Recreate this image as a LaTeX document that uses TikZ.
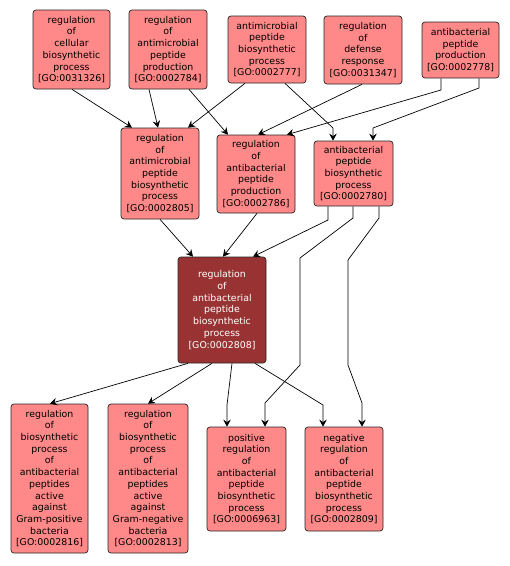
\documentclass[tikz,border=0pt]{standalone}
\usepackage{fontspec}
\setmainfont{DejaVu Sans}
\usetikzlibrary{arrows.meta}
\definecolor{gofill}{RGB}{255,136,136}
\definecolor{gofocus}{RGB}{153,51,51}
\begin{document}
\begin{tikzpicture}[x=1pt,y=-1pt,
  term/.style={draw=black!85, line width=0.7pt, fill=gofill, rounded corners=3pt, align=center, inner sep=0pt,
    font=\fontsize{9.4}{11.7}\selectfont, text=black},
  focus/.style={term, fill=gofocus, text=white},
  arr/.style={draw=black, line width=0.7pt, -{Stealth[length=7pt,width=7.5pt,inset=2.5pt]}}]
\useasboundingbox (0,0) rectangle (510,566);
% top row
\node[term, minimum width=77pt, minimum height=79pt] (n1) at (71.5,49.5) {regulation\\of\\cellular\\biosynthetic\\process\\{[GO:0031326]}};
\node[term, minimum width=78pt, minimum height=79pt] (n2) at (168,49.5) {regulation\\of\\antimicrobial\\peptide\\production\\{[GO:0002784]}};
\node[term, minimum width=78pt, minimum height=67pt] (n3) at (267,49.5) {antimicrobial\\peptide\\biosynthetic\\process\\{[GO:0002777]}};
\node[term, minimum width=78pt, minimum height=68pt] (n4) at (363,50) {regulation\\of\\defense\\response\\{[GO:0031347]}};
\node[term, minimum width=77pt, minimum height=56pt] (n5) at (460.5,50) {antibacterial\\peptide\\production\\{[GO:0002778]}};
% middle row
\node[term, minimum width=78pt, minimum height=91pt] (m1) at (160,173.5) {regulation\\of\\antimicrobial\\peptide\\biosynthetic\\process\\{[GO:0002805]}};
\node[term, minimum width=78pt, minimum height=78pt] (m2) at (256,174) {regulation\\of\\antibacterial\\peptide\\production\\{[GO:0002786]}};
\node[term, minimum width=79pt, minimum height=65pt] (m3) at (353.5,173.5) {antibacterial\\peptide\\biosynthetic\\process\\{[GO:0002780]}};
% focus
\node[focus, minimum width=88pt, minimum height=106pt] (c) at (222,310) {regulation\\of\\antibacterial\\peptide\\biosynthetic\\process\\{[GO:0002808]}};
% bottom row
\node[term, minimum width=77pt, minimum height=149pt] (b1) at (49.5,478.5) {regulation\\of\\biosynthetic\\process\\of\\antibacterial\\peptides\\active\\against\\Gram-positive\\bacteria\\{[GO:0002816]}};
\node[term, minimum width=80pt, minimum height=149pt] (b2) at (148,478.5) {regulation\\of\\biosynthetic\\process\\of\\antibacterial\\peptides\\active\\against\\Gram-negative\\bacteria\\{[GO:0002813]}};
\node[term, minimum width=79pt, minimum height=104pt] (b3) at (246.5,479) {positive\\regulation\\of\\antibacterial\\peptide\\biosynthetic\\process\\{[GO:0006963]}};
\node[term, minimum width=78pt, minimum height=104pt] (b4) at (344,479) {negative\\regulation\\of\\antibacterial\\peptide\\biosynthetic\\process\\{[GO:0002809]}};
% edges top -> middle
\draw[arr] ([xshift=0.5pt]n1.south) -- ([xshift=-28pt]m1.north);
\draw[arr] ([xshift=-19pt]n2.south) -- ([xshift=-2pt]m1.north);
\draw[arr] ([xshift=21pt]n2.south) -- ([xshift=-28pt]m2.north);
\draw[arr] ([xshift=-22pt]n3.south) -- ([xshift=28pt]m1.north);
\draw[arr] ([xshift=18pt]n3.south) -- (333,128) -- ([xshift=-20.5pt]m3.north);
\draw[arr] ([xshift=-1pt]n4.south) -- ([xshift=2pt]m2.north);
\draw[arr] ([xshift=-19.5pt]n5.south) -- (441,90) -- ([xshift=31pt]m2.north);
\draw[arr] ([xshift=18.5pt]n5.south) -- (479,88) -- (373,128) -- ([xshift=19.5pt]m3.north);
% middle -> focus
\draw[arr] (m1.south) -- ([xshift=-29pt]c.north);
\draw[arr] ([xshift=1pt]m2.south) -- ([xshift=1pt]c.north);
\draw[arr] ([xshift=-25.5pt]m3.south) -- (328,220) -- ([xshift=31pt]c.north);
% middle -> bottom
\draw[arr] ([xshift=-0.5pt]m3.south) -- (353,218) -- (300,258) -- (300,365) -- (265,403) -- ([xshift=18.5pt]b3.north);
\draw[arr] ([xshift=25.5pt]m3.south) -- (379,218) -- (348,260) -- (348,365) -- (362,403) -- ([xshift=18pt]b4.north);
% focus -> bottom
\draw[arr] ([xshift=-34pt]c.south) -- ([xshift=0.5pt]b1.north);
\draw[arr] ([xshift=-10pt]c.south) -- (b2.north);
\draw[arr] ([xshift=10pt]c.south) -- (227,405) -- ([xshift=-19.5pt]b3.north);
\draw[arr] ([xshift=33pt]c.south) -- (323,405) -- ([xshift=-21pt]b4.north);
\end{tikzpicture}
\end{document}
